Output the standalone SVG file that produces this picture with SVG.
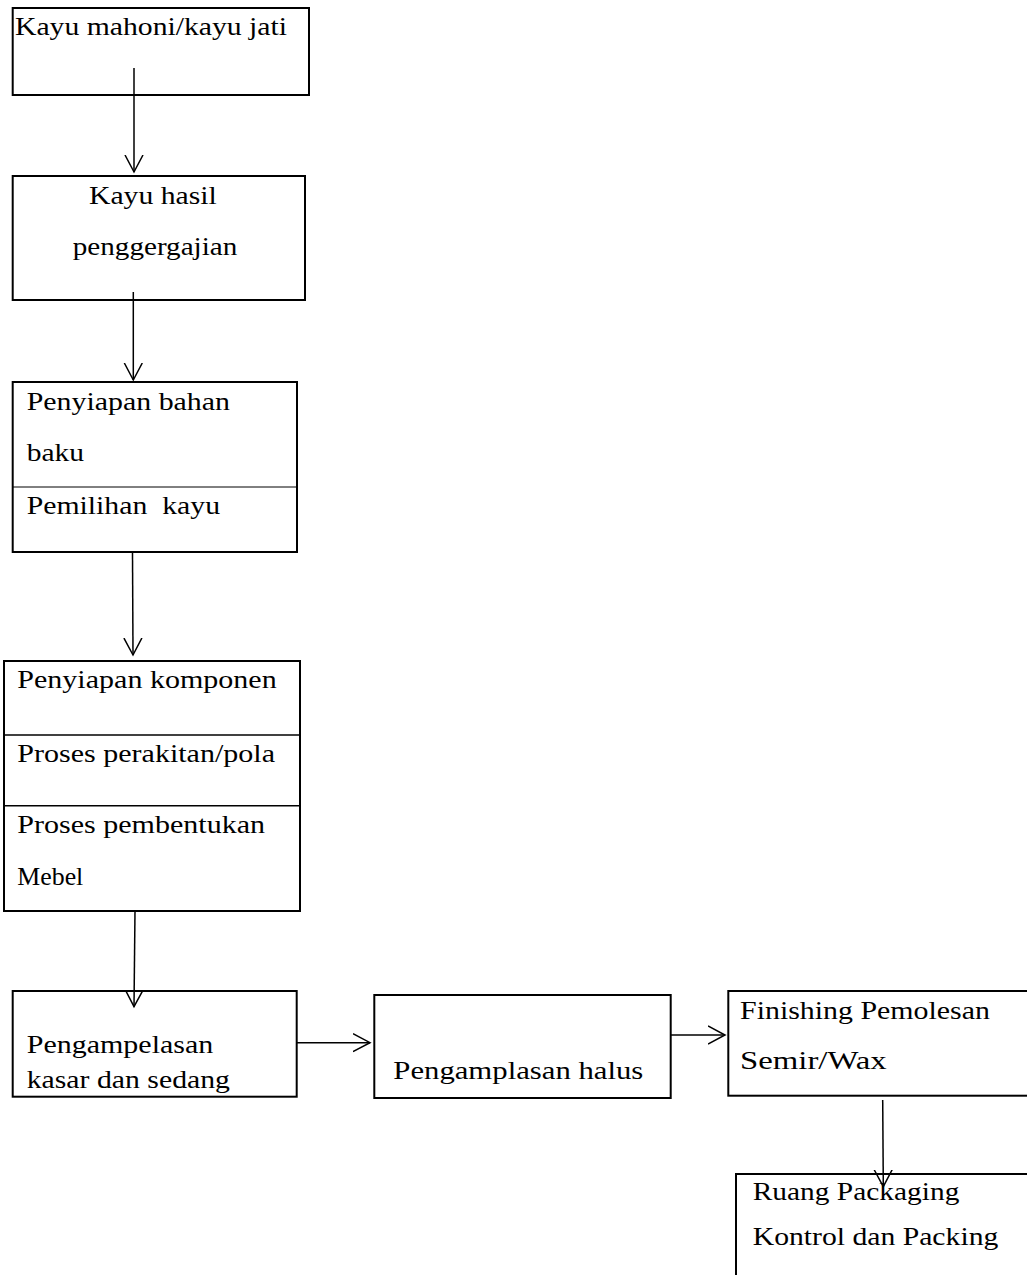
<svg xmlns="http://www.w3.org/2000/svg" width="1027" height="1275" viewBox="0 0 1027 1275">
<style>
  .box{fill:none;stroke:#000;stroke-width:2}
  .div{fill:none;stroke:#000;stroke-width:1.5}
  .thin{fill:none;stroke:#000;stroke-width:1}
  .arr{fill:none;stroke:#000;stroke-width:1.5;marker-end:url(#ah)}
  text{font-family:"Liberation Serif","Times New Roman",serif;font-size:26px;fill:#000;white-space:pre}
</style>
<defs>
  <marker id="ah" markerUnits="userSpaceOnUse" markerWidth="20" markerHeight="20" refX="17" refY="9" orient="auto" viewBox="0 0 20 18">
    <path d="M0,0 L17,9 L0,18" fill="none" stroke="#000" stroke-width="1.5"/>
  </marker>
</defs>
<rect width="1027" height="1275" fill="#fff"/>
<g id="n1">
  <rect class="box" x="12.7" y="8" width="296.3" height="87"/>
  <text transform="translate(15,35) scale(1.12,1)" textLength="242.9" lengthAdjust="spacingAndGlyphs">Kayu mahoni/kayu jati</text>
</g>
<g id="n2">
  <rect class="box" x="12.7" y="176" width="292.3" height="124"/>
  <text transform="translate(89,203.5) scale(1.12,1)" textLength="114" lengthAdjust="spacingAndGlyphs">Kayu hasil</text>
  <text transform="translate(72.7,255) scale(1.12,1)" textLength="147" lengthAdjust="spacingAndGlyphs">penggergajian</text>
</g>
<g id="n3">
  <rect class="box" x="12.7" y="382" width="284.3" height="170"/>
  <line class="thin" x1="12.7" y1="487" x2="297" y2="487"/>
  <text transform="translate(26.7,410) scale(1.12,1)" textLength="181.5" lengthAdjust="spacingAndGlyphs">Penyiapan bahan</text>
  <text transform="translate(26.7,460.7) scale(1.12,1)" textLength="51.2" lengthAdjust="spacingAndGlyphs">baku</text>
  <text transform="translate(26.7,514) scale(1.12,1)" textLength="172.6" lengthAdjust="spacingAndGlyphs">Pemilihan  kayu</text>
</g>
<g id="n4">
  <rect class="box" x="4" y="661" width="296" height="250"/>
  <line class="div" x1="4" y1="735" x2="300" y2="735"/>
  <line class="div" x1="4" y1="805.7" x2="300" y2="805.7"/>
  <text transform="translate(17.3,688.3) scale(1.12,1)" textLength="231.6" lengthAdjust="spacingAndGlyphs">Penyiapan komponen</text>
  <text transform="translate(17.3,761.7) scale(1.12,1)" textLength="230.1" lengthAdjust="spacingAndGlyphs">Proses perakitan/pola</text>
  <text transform="translate(17.3,833.3) scale(1.12,1)" textLength="221.2" lengthAdjust="spacingAndGlyphs">Proses pembentukan</text>
  <text transform="translate(17.3,885) scale(1.12,1)" textLength="58.9" lengthAdjust="spacingAndGlyphs">Mebel</text>
</g>
<g id="n5">
  <rect class="box" x="12.7" y="991" width="284" height="105.7"/>
  <text transform="translate(26.7,1052.7) scale(1.12,1)" textLength="166.6" lengthAdjust="spacingAndGlyphs">Pengampelasan</text>
  <text transform="translate(26.7,1088) scale(1.12,1)" textLength="181.5" lengthAdjust="spacingAndGlyphs">kasar dan sedang</text>
</g>
<g id="n6">
  <rect class="box" x="374.3" y="995" width="296.4" height="103"/>
  <text transform="translate(393.3,1079.3) scale(1.12,1)" textLength="223.2" lengthAdjust="spacingAndGlyphs">Pengamplasan halus</text>
</g>
<g id="n7">
  <rect class="box" x="728.3" y="991" width="310" height="104.7"/>
  <text transform="translate(740,1019) scale(1.12,1)" textLength="223.2" lengthAdjust="spacingAndGlyphs">Finishing Pemolesan</text>
  <text transform="translate(740,1069) scale(1.12,1)" textLength="131" lengthAdjust="spacingAndGlyphs">Semir/Wax</text>
</g>
<g id="n8">
  <rect class="box" x="736" y="1174" width="310" height="120"/>
  <text transform="translate(752.7,1200) scale(1.12,1)" textLength="184.5" lengthAdjust="spacingAndGlyphs">Ruang Packaging</text>
  <text transform="translate(752.7,1245) scale(1.12,1)" textLength="219.3" lengthAdjust="spacingAndGlyphs">Kontrol dan Packing</text>
</g>
<g id="connectors">
  <line class="arr" x1="134" y1="68" x2="134" y2="172"/>
  <line class="arr" x1="133.3" y1="292" x2="133.3" y2="380"/>
  <line class="arr" x1="132.5" y1="553" x2="133" y2="655"/>
  <line class="arr" x1="135" y1="911" x2="134" y2="1006.7"/>
  <line class="arr" x1="297" y1="1042.7" x2="370" y2="1042.7"/>
  <line class="arr" x1="670.7" y1="1035" x2="725" y2="1035"/>
  <line class="arr" x1="882.7" y1="1100" x2="883.3" y2="1186.7"/>
</g>
</svg>
